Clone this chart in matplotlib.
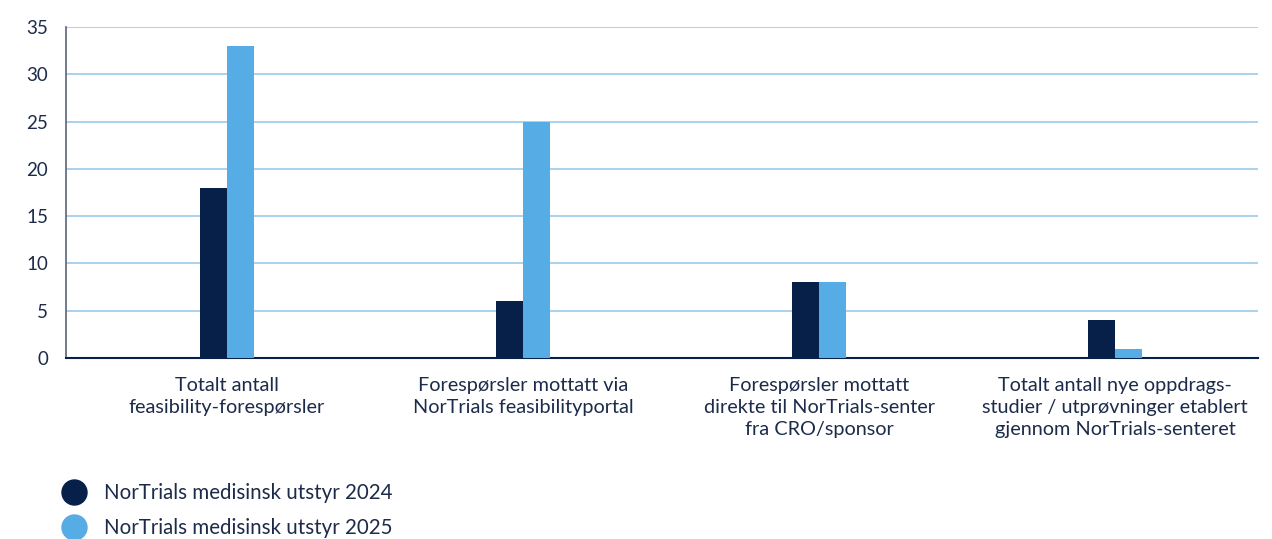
import matplotlib
matplotlib.use("Agg")
import matplotlib.pyplot as plt
from matplotlib.lines import Line2D
import numpy as np

categories = [
    "Totalt antall\nfeasibility-forespørsler",
    "Forespørsler mottatt via\nNorTrials feasibilityportal",
    "Forespørsler mottatt\ndirekte til NorTrials-senter\nfra CRO/sponsor",
    "Totalt antall nye oppdrags-\nstudier / utprøvninger etablert\ngjennom NorTrials-senteret",
]
series_names = ["NorTrials medisinsk utstyr 2024", "NorTrials medisinsk utstyr 2025"]
values_2024 = [18, 6, 8, 4]
values_2025 = [33, 25, 8, 1]
yticks = [0, 5, 10, 15, 20, 25, 30, 35]

dark = "#06204a"
light = "#56ace4"
text_col = "#1c2b4a"

plt.rcParams["font.family"] = ["Lato", "DejaVu Sans"]

fig = plt.figure(figsize=(12.72, 5.39), dpi=100)
ax = fig.add_axes([66/1272, 1-358/539, (1258-66)/1272, (358-27)/539])

x = np.arange(len(categories))
w = 0.092
ax.bar(x - w/2, values_2024, w, color=dark, zorder=3)
ax.bar(x + w/2, values_2025, w, color=light, zorder=3)

ax.set_ylim(0, 35)
ax.set_xlim(-0.544, 3.483)
ax.set_yticks(yticks)
ax.set_yticklabels([str(t) for t in yticks], fontsize=13.5, color=text_col)
ax.yaxis.grid(True, color="#a3cfec", linewidth=1.3, zorder=0)
ax.set_axisbelow(True)
ax.set_xticks(x)
ax.set_xticklabels(categories, fontsize=14.3, color=text_col, linespacing=1.33)
ax.tick_params(axis="x", length=0, pad=14)
ax.tick_params(axis="y", length=0, pad=13)
for s in ["top", "right"]:
    ax.spines[s].set_visible(False)
ax.spines["left"].set_color("#5a6478")
ax.spines["left"].set_linewidth(1.2)
ax.spines["bottom"].set_color(dark)
ax.spines["bottom"].set_linewidth(1.5)

handles = [Line2D([], [], marker="o", linestyle="none", markersize=18, color=c) for c in (dark, light)]
fig.legend(handles, series_names, loc="upper left", bbox_to_anchor=(45/1272, 1-475/539),
           frameon=False, fontsize=14.8, labelcolor=text_col, handletextpad=0.45,
           labelspacing=0.72, borderaxespad=0)

fig.savefig("out.png", dpi=100)
